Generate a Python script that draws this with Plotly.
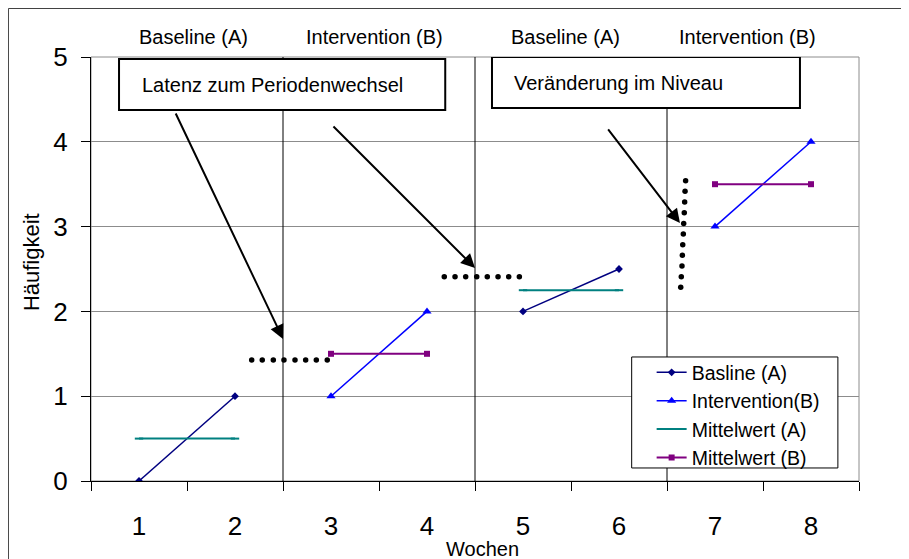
import plotly.graph_objects as go

# ---- data ----
weeks = [1, 2, 3, 4, 5, 6, 7, 8]
baseline_a = [0, 1, None, None, 2, 2.5, None, None]
intervention_b = [None, None, 1, 2, None, None, 3, 4]
mean_a = [0.5, 0.5, None, None, 2.25, 2.25, None, None]
mean_b = [None, None, 1.5, 1.5, None, None, 3.5, 3.5]

phase_labels = ["Baseline (A)", "Intervention (B)", "Baseline (A)", "Intervention (B)"]
phase_label_x = [1.565, 3.456, 5.44, 7.34]
phase_changes = [2.5, 4.5, 6.5]

# dotted guide marks (data units)
dots1_x = [2.174, 2.284, 2.399, 2.510, 2.625, 2.736, 2.847, 2.961]
dots1_y = [1.427] * 8
dots2_x = [4.180, 4.292, 4.403, 4.518, 4.628, 4.740, 4.851, 4.962]
dots2_y = [2.409] * 8
dots3_x = [6.694, 6.688, 6.684, 6.680, 6.674, 6.670, 6.664, 6.660, 6.656, 6.649, 6.643]
dots3_y = [3.541, 3.416, 3.290, 3.164, 3.038, 2.913, 2.787, 2.661, 2.535, 2.410, 2.284]

# arrows: (tail x, tail y, tip x, tip y) in data units
arrows = [
    (1.375, 4.351, 2.5, 1.675),
    (3.01, 4.198, 4.5, 2.512),
    (5.875, 4.163, 6.635, 3.042),
]

# callout boxes: (x0, x1, y0, y1, text x, text y, text)
boxes = [
    (0.792, 4.19, 4.375, 4.976, 1.01, 4.67, "Latenz zum Periodenwechsel"),
    (4.677, 7.885, 4.40, 5.0, 4.885, 4.69, "Veränderung im Niveau"),
]

FONT = "Arial, Liberation Sans, sans-serif"

fig = go.Figure()
fig.add_trace(go.Scatter(x=weeks, y=baseline_a, name="Basline (A)", mode="lines+markers",
                         line=dict(color="#000080", width=1.5),
                         marker=dict(symbol="diamond", size=6, color="#000080"),
                         connectgaps=False))
fig.add_trace(go.Scatter(x=weeks, y=intervention_b, name="Intervention(B)", mode="lines+markers",
                         line=dict(color="#0000FF", width=1.5),
                         marker=dict(symbol="triangle-up", size=8, color="#0000FF"),
                         connectgaps=False))
fig.add_trace(go.Scatter(x=weeks, y=mean_a, name="Mittelwert (A)", mode="lines+markers",
                         line=dict(color="#008080", width=2),
                         marker=dict(symbol="line-ew", size=6, color="#008080",
                                     line=dict(color="#008080", width=2)),
                         connectgaps=False))
fig.add_trace(go.Scatter(x=weeks, y=mean_b, name="Mittelwert (B)", mode="lines+markers",
                         line=dict(color="#800080", width=2),
                         marker=dict(symbol="square", size=6, color="#800080"),
                         connectgaps=False))
for dx, dy in [(dots1_x, dots1_y), (dots2_x, dots2_y), (dots3_x, dots3_y)]:
    fig.add_trace(go.Scatter(x=dx, y=dy, mode="markers", showlegend=False, hoverinfo="skip",
                             marker=dict(size=5.5, color="black")))

shapes = []
# plot area border (gray)
shapes.append(dict(type="rect", xref="paper", yref="paper", x0=0, x1=1, y0=0, y1=1,
                   line=dict(color="#8c8c8c", width=1), layer="below"))
# outer chart frame
shapes.append(dict(type="rect", xref="paper", yref="paper", x0=-0.1075, x1=1.3, y0=-0.4, y1=1.1144,
                   line=dict(color="#404040", width=1), layer="below"))
# phase change lines
for xc in phase_changes:
    shapes.append(dict(type="line", xref="x", yref="paper", x0=xc, x1=xc, y0=0, y1=1,
                       line=dict(color="black", width=1), layer="above"))
# callout boxes
for b in boxes:
    shapes.append(dict(type="rect", xref="x", yref="y", x0=b[0], x1=b[1], y0=b[2], y1=b[3],
                       fillcolor="white", line=dict(color="black", width=2), layer="above"))
# legend box
shapes.append(dict(type="rect", xref="paper", yref="paper", x0=0.704, x1=0.9725, y0=0.0307, y1=0.2925,
                   fillcolor="white", line=dict(color="black", width=1), layer="above"))

annotations = []
for t, xl in zip(phase_labels, phase_label_x):
    annotations.append(dict(text=t, x=xl, xref="x", y=1.047, yref="paper", showarrow=False,
                            xanchor="center", yanchor="middle", font=dict(size=20, color="black")))
for b in boxes:
    annotations.append(dict(text=b[6], x=b[4], y=b[5], xref="x", yref="y", showarrow=False,
                            xanchor="left", yanchor="middle", font=dict(size=20, color="black")))
for a in arrows:
    annotations.append(dict(text="", x=a[2], y=a[3], ax=a[0], ay=a[1], xref="x", yref="y",
                            axref="x", ayref="y", showarrow=True, arrowhead=2, arrowsize=1.4,
                            arrowwidth=2, arrowcolor="black", standoff=0))
annotations.append(dict(text="Häufigkeit", x=-0.078, y=0.5165, xref="paper", yref="paper",
                        showarrow=False, textangle=-90, xanchor="center", yanchor="middle",
                        font=dict(size=22, color="black")))
annotations.append(dict(text="Wochen", x=0.510, y=-0.160, xref="paper", yref="paper",
                        showarrow=False, xanchor="center", yanchor="middle",
                        font=dict(size=20, color="black")))

# the page adds an 8px body margin, so the figure is 8px smaller and margins shifted
fig.update_layout(
    width=901, height=551,
    margin=dict(l=83, r=50, t=49, b=78),
    paper_bgcolor="white", plot_bgcolor="white",
    font=dict(family=FONT, color="black"),
    shapes=shapes, annotations=annotations,
    showlegend=True,
    legend=dict(x=0.73, y=0.3015, xanchor="left", yanchor="top", bgcolor="rgba(0,0,0,0)",
                borderwidth=0, font=dict(size=19.5, color="black")),
    xaxis=dict(range=[0.5, 8.5], tickvals=weeks, ticktext=[str(w) for w in weeks],
               ticks="", showgrid=False, zeroline=False,
               showline=True, linecolor="black", linewidth=1,
               tickfont=dict(size=26, color="black"), ticklabelstandoff=22,
               minor=dict(tickvals=[0.5, 1.5, 2.5, 3.5, 4.5, 5.5, 6.5, 7.5, 8.5], ticks="outside",
                          ticklen=9, tickcolor="black", tickwidth=1, showgrid=False)),
    yaxis=dict(range=[0, 5], dtick=1, ticks="outside", ticklen=9, tickcolor="black",
               showgrid=True, gridcolor="#8c8c8c", gridwidth=1, zeroline=False,
               showline=True, linecolor="black", linewidth=1,
               tickfont=dict(size=26, color="black"), ticklabelstandoff=8),
)

fig.write_html("out.html")
